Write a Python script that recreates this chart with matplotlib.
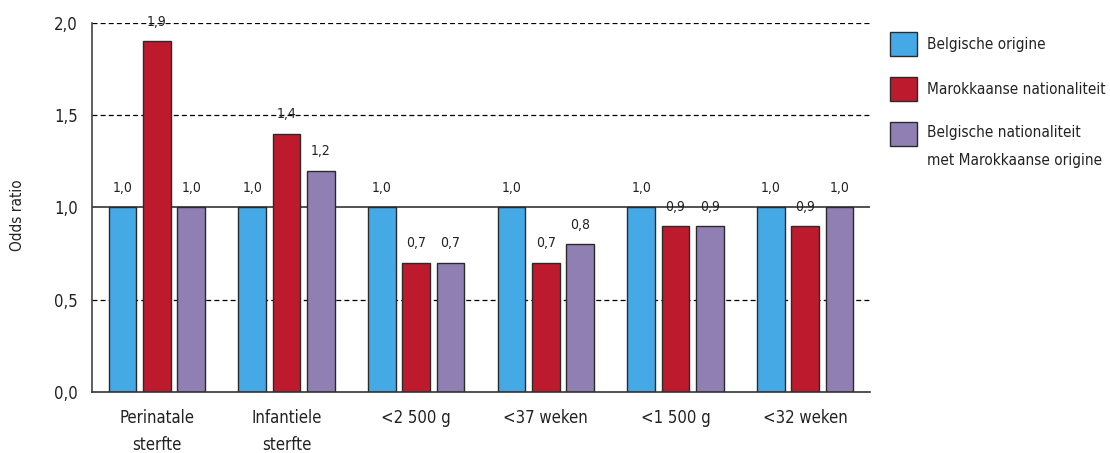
import matplotlib
matplotlib.use("Agg")
import matplotlib.pyplot as plt
from matplotlib.patches import Rectangle
import numpy as np

plt.rcParams['font.family'] = ['DejaVu Sans']
plt.rcParams['font.stretch'] = 'condensed'

categories = ["Perinatale\nsterfte", "Infantiele\nsterfte", "<2 500 g",
              "<37 weken", "<1 500 g", "<32 weken"]
series_names = ["Belgische origine", "Marokkaanse nationaliteit",
                "Belgische nationaliteit\nmet Marokkaanse origine"]
belgische_origine = [1.0, 1.0, 1.0, 1.0, 1.0, 1.0]
marokkaanse_nat = [1.9, 1.4, 0.7, 0.7, 0.9, 0.9]
belg_nat_marok_origine = [1.0, 1.2, 0.7, 0.8, 0.9, 1.0]
yticks = [0.0, 0.5, 1.0, 1.5, 2.0]

series = [belgische_origine, marokkaanse_nat, belg_nat_marok_origine]
colors = ["#45a9e6", "#bd1a2e", "#8f7fb3"]
edge = "#2a2a2a"
text_color = "#222222"

W, H = 1110, 453
fig = plt.figure(figsize=(W / 100, H / 100), dpi=100)
ax = fig.add_axes([92 / W, 61 / H, 778 / W, 369 / H])

x = np.arange(len(categories))
offsets = [-0.265, 0.0, 0.265]
bw = 0.215

for vals, off, col in zip(series, offsets, colors):
    ax.bar(x + off, vals, width=bw, color=col, edgecolor=edge,
           linewidth=1.0, zorder=3)
    for xi, v in zip(x + off, vals):
        ax.annotate(f"{v:.1f}".replace(".", ","), xy=(xi, v),
                    xytext=(0, 14), textcoords="offset points",
                    ha="center", va="center", fontsize=10, color=text_color,
                    annotation_clip=False, zorder=4)

# horizontal reference lines
for yv in [0.5, 1.5, 2.0]:
    ax.axhline(yv, color="black", lw=0.9, ls=(0, (4, 2.5)), zorder=1)
ax.axhline(1.0, color="#222222", lw=1.1, zorder=1)

ax.set_xlim(-0.5, 5.5)
ax.set_ylim(0, 2.0)
ax.set_yticks(yticks)
ax.set_yticklabels([f"{t:.1f}".replace(".", ",") for t in yticks],
                   fontsize=12, color=text_color)
ax.set_xticks(x)
ax.set_xticklabels(categories, fontsize=12, color=text_color, linespacing=1.65)
ax.tick_params(axis="y", length=0, pad=10)
ax.tick_params(axis="x", length=0, pad=12)

for s in ["top", "right"]:
    ax.spines[s].set_visible(False)
ax.spines["left"].set_color("#333333")
ax.spines["left"].set_linewidth(1.1)
ax.spines["bottom"].set_color("#333333")
ax.spines["bottom"].set_linewidth(1.2)
ax.spines["left"].set_zorder(5)
ax.spines["bottom"].set_zorder(5)

fig.text(18 / W, 1 - 215 / H, "Odds ratio", rotation=90, ha="center",
         va="center", fontsize=11, color=text_color)

# legend drawn as swatches and labels in figure coordinates
centers = [44, 89, 134]
for yc, col, name in zip(centers, colors, series_names):
    fig.add_artist(Rectangle((890 / W, 1 - (yc + 12) / H), 27 / W, 24 / H,
                             transform=fig.transFigure, facecolor=col,
                             edgecolor=edge, linewidth=1.0))
    if "\n" in name:
        fig.text(927 / W, 1 - (yc + 12.5) / H, name, ha="left", va="center",
                 fontsize=11, color=text_color, linespacing=2.0)
    else:
        fig.text(927 / W, 1 - yc / H, name, ha="left", va="center",
                 fontsize=11, color=text_color)

fig.savefig("out.png", dpi=100, facecolor="white")
